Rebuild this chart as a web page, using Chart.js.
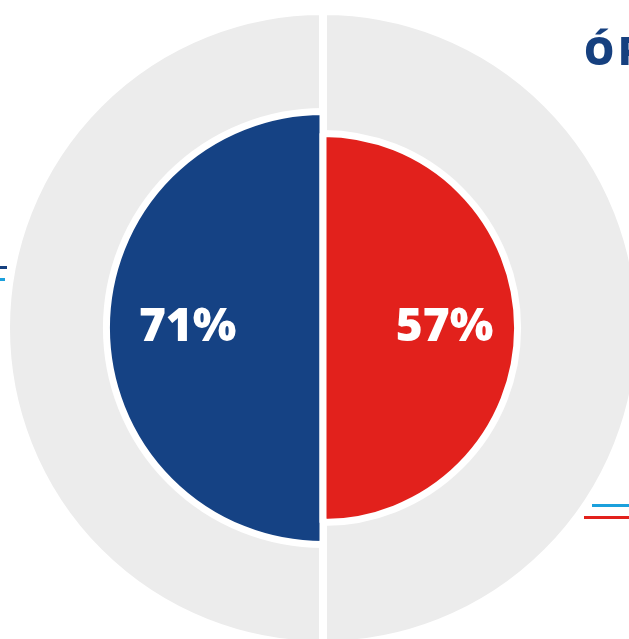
<!DOCTYPE html>
<html>
<head>
<meta charset="utf-8">
<script src="https://cdn.jsdelivr.net/npm/chart.js@4/dist/chart.umd.min.js"></script>
<style>
  html, body { margin: 0; padding: 0; background: #fff; width: 629px; height: 639px; overflow: hidden; position: relative; }
  #wrap { position: absolute; left: 6px; top: 11px; width: 635px; height: 635px; }
  .title { position: absolute; left: 584px; top: 24px; font-family: "Open Sans", sans-serif; font-weight: 800; font-size: 38px; letter-spacing: 4px; color: #16407f; white-space: nowrap; }
  .mark { position: absolute; height: 3px; }
</style>
</head>
<body>
<div id="wrap"><canvas id="graph"></canvas></div>
<div class="title">ÓPTIMO</div>
<div class="mark" style="left:0;top:266px;width:7px;background:#16407f"></div>
<div class="mark" style="left:0;top:278px;width:5px;background:#1ba0dc"></div>
<div class="mark" style="left:592px;top:504px;width:40px;background:#1ba0dc"></div>
<div class="mark" style="left:584px;top:516px;width:48px;background:#e2211c"></div>
<script>
// two halves: left / right
const groups = ['Grupo 1', 'Grupo 2'];
const percentValues = [71, 57];
// radial scale range used by the original layout
const scaleMin = -67;
const scaleMax = 135;
const backgroundValues = [scaleMax, scaleMax];

// write the percentages inside each half
const percentLabels = {
  id: 'percentLabels',
  afterDatasetsDraw(chart) {
    const ctx = chart.ctx;
    const meta = chart.getDatasetMeta(0);
    ctx.save();
    ctx.fillStyle = '#ffffff';
    ctx.font = '800 46px "Open Sans"';
    ctx.textAlign = 'center';
    ctx.textBaseline = 'middle';
    meta.data.forEach((arc, i) => {
      const p = arc.getProps(['x', 'y', 'startAngle', 'endAngle', 'outerRadius'], true);
      const mid = (p.startAngle + p.endAngle) / 2;
      const d = p.outerRadius * 0.625;
      ctx.fillText(percentValues[i] + '%', p.x + Math.cos(mid) * d, p.y + Math.sin(mid) * d);
    });
    ctx.restore();
  }
};

const ctx = document.getElementById('graph').getContext('2d');
new Chart(ctx, {
  type: 'polarArea',
  data: {
    labels: groups,
    datasets: [
      {
        data: percentValues,
        backgroundColor: ['#154284', '#e2211c'],
        borderColor: '#ffffff',
        borderWidth: 7
      },
      {
        data: backgroundValues,
        backgroundColor: '#ececec',
        borderColor: '#ffffff',
        borderWidth: 8
      }
    ]
  },
  options: {
    responsive: true,
    maintainAspectRatio: false,
    animation: false,
    events: [],
    layout: { padding: 0 },
    plugins: {
      legend: { display: false },
      tooltip: { enabled: false }
    },
    scales: {
      r: {
        min: scaleMin,
        max: scaleMax,
        startAngle: 180,
        ticks: { display: false },
        grid: { display: false },
        angleLines: { display: false },
        pointLabels: { display: false }
      }
    }
  },
  plugins: [percentLabels]
});
</script>
</body>
</html>
